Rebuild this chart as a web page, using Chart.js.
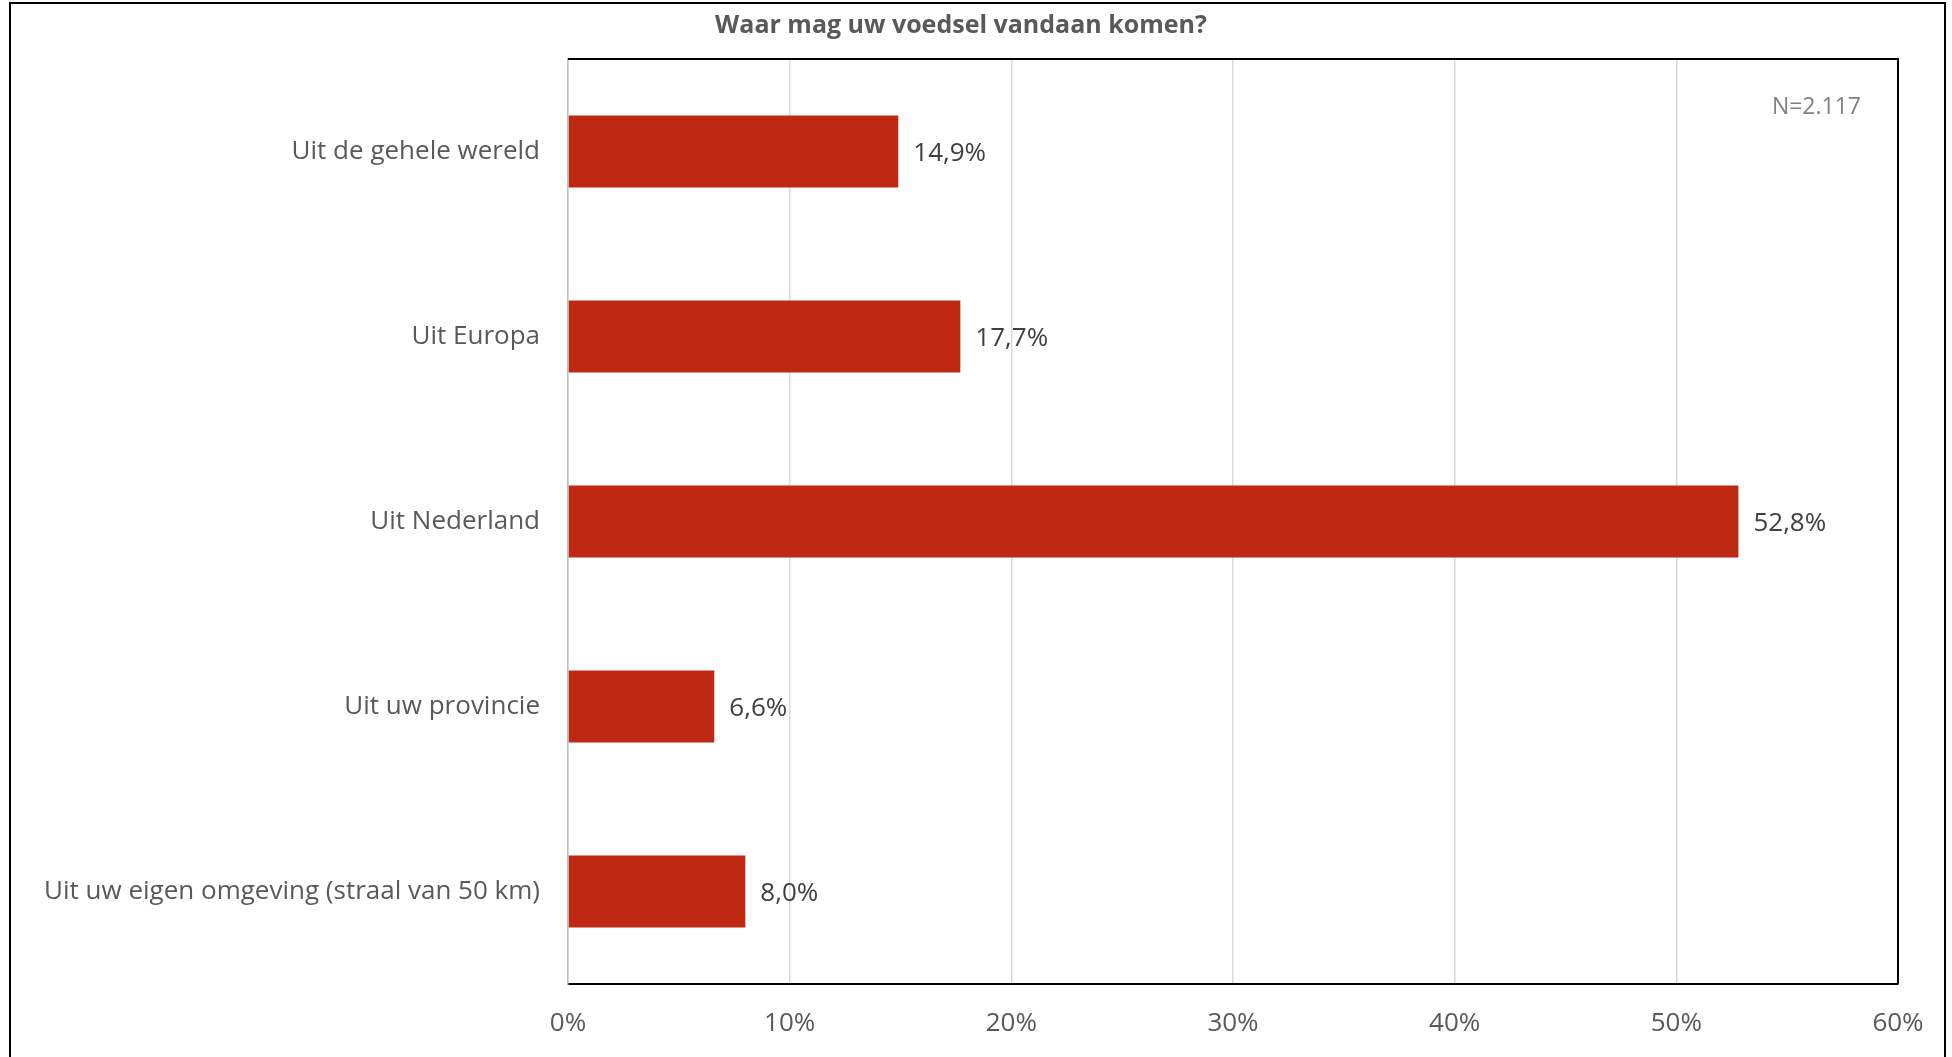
<!DOCTYPE html>
<html>
<head>
<meta charset="utf-8">
<script src="https://cdn.jsdelivr.net/npm/chart.js@4/dist/chart.umd.min.js"></script>
<style>
    html, body { margin: 0; padding: 0; background: #fff; }
    #wrap { width: 1952px; height: 1057px; }
</style>
</head>
<body>
<div id="wrap"><canvas id="voedsel-chart" width="1952" height="1057"></canvas></div>
<script>
const categories = [
    "Uit de gehele wereld",
    "Uit Europa",
    "Uit Nederland",
    "Uit uw provincie",
    "Uit uw eigen omgeving (straal van 50 km)"
]
const percentages = [14.9, 17.7, 52.8, 6.6, 8.0]
const xTicks = [0, 10, 20, 30, 40, 50, 60]
const title = "Waar mag uw voedsel vandaan komen?"
const sampleSize = "N=2.117"

const font = "'Open Sans', 'Noto Sans', sans-serif"

function formatPct(value) {
    return value.toFixed(1).replace('.', ',') + '%'
}

// frame, title, plot border and value labels
const decorations = {
    id: 'decorations',
    beforeDraw(chart) {
        const c = chart.ctx
        c.save()
        c.fillStyle = '#fff'
        c.fillRect(0, 0, chart.width, chart.height)
        c.strokeStyle = '#000'
        c.lineWidth = 2
        c.beginPath()
        c.moveTo(10, chart.height)
        c.lineTo(10, 3)
        c.lineTo(1945, 3)
        c.lineTo(1945, chart.height)
        c.stroke()
        c.restore()
    },
    afterDraw(chart) {
        const c = chart.ctx
        const area = chart.chartArea
        c.save()
        c.strokeStyle = '#000'
        c.lineWidth = 2
        c.beginPath()
        c.moveTo(area.left, area.top)
        c.lineTo(area.right, area.top)
        c.lineTo(area.right, area.bottom)
        c.stroke()

        c.fillStyle = '#595959'
        c.font = "bold 25px " + font
        c.textAlign = 'center'
        c.textBaseline = 'middle'
        c.fillText(title, 961, 26)

        c.fillStyle = '#808080'
        c.font = "23px " + font
        c.textAlign = 'right'
        c.fillText(sampleSize, area.right - 37, 107)

        c.fillStyle = '#404040'
        c.font = "26px " + font
        c.textAlign = 'left'
        const meta = chart.getDatasetMeta(0)
        meta.data.forEach((bar, i) => {
            c.fillText(formatPct(percentages[i]), bar.x + 15, bar.y + 2)
        })
        c.restore()
    }
}

new Chart(document.getElementById('voedsel-chart'), {
    type: 'bar',
    data: {
        labels: categories,
        datasets: [{
            data: percentages,
            backgroundColor: '#bf2812',
            borderWidth: 0,
            barPercentage: 0.39,
            categoryPercentage: 1
        }]
    },
    options: {
        indexAxis: 'y',
        responsive: false,
        animation: false,
        layout: { padding: { top: 59, right: 54, left: 0, bottom: 0 } },
        plugins: {
            legend: { display: false },
            title: { display: false },
            tooltip: { enabled: false }
        },
        scales: {
            x: {
                min: 0,
                max: 60,
                afterBuildTicks: (scale) => { scale.ticks = xTicks.map(v => ({ value: v })) },
                afterFit: (scale) => { scale.height = 73 },
                ticks: {
                    padding: 24,
                    color: '#595959',
                    font: { family: font, size: 26 },
                    callback: (value) => value + '%'
                },
                grid: { color: '#d9d9d9', lineWidth: 1.5, drawTicks: false },
                border: { color: '#000', width: 2 }
            },
            y: {
                afterFit: (scale) => { scale.width = 568 },
                ticks: {
                    padding: 28,
                    color: '#595959',
                    font: { family: font, size: 26 }
                },
                grid: { display: false, drawTicks: false },
                border: { color: '#bfbfbf', width: 1.5 }
            }
        }
    },
    plugins: [decorations]
})
</script>
</body>
</html>
